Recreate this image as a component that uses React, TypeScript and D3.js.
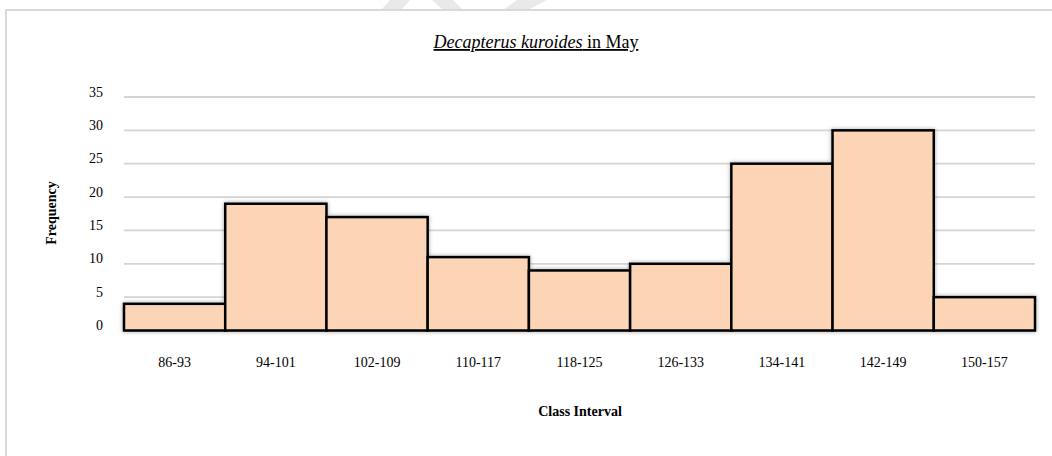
import React from "react";
import * as d3 from "d3";

// Length classes (mm) and their frequencies
const categories = ["86-93", "94-101", "102-109", "110-117", "118-125", "126-133", "134-141", "142-149", "150-157"];
const frequencies = [4, 19, 17, 11, 9, 10, 25, 30, 5];
const yTicks = [0, 5, 10, 15, 20, 25, 30, 35];

const W = 1052;
const H = 456;
const FONT = "'Liberation Serif', 'DejaVu Serif', serif";

export default function App() {
  const x = d3.scaleBand<string>().domain(categories).range([124, 1035]).padding(0);
  const y = d3.scaleLinear().domain([0, 35]).range([330.5, 97]);

  const bars = categories.map((c, i) => ({ c, v: frequencies[i] }));

  return (
    <svg width={W} height={H} style={{ position: "absolute", left: 0, top: 0, background: "#fff" }}>
      <defs>
        <filter id="barShadow" x="-10%" y="-10%" width="120%" height="120%">
          <feDropShadow dx="0" dy="0" stdDeviation="2.2" floodColor="#000" floodOpacity="0.35" />
        </filter>
      </defs>

      {/* faint page watermark strokes above the frame */}
      <g fill="#e9e9e9">
        <polygon points="390,0 410,0 401,10 381,10" />
        <polygon points="432,0 453,0 463,10 443,10" />
        <polygon points="517,0 547,0 528,10 503,10" />
      </g>

      {/* chart frame */}
      <rect x={6} y={10} width={W + 10} height={H + 10} fill="#fff" stroke="#d9d9d9" strokeWidth={2} />

      {/* title */}
      <text x={536} y={48} textAnchor="middle" fontFamily={FONT} fontSize={18} fill="#000" textDecoration="underline">
        <tspan fontStyle="italic">Decapterus kuroides</tspan>
        <tspan> in May</tspan>
      </text>

      {/* gridlines */}
      {yTicks.map((t) => (
        <line key={t} x1={124} x2={1035} y1={y(t)} y2={y(t)} stroke="#d4d4d4" strokeWidth={1.8} />
      ))}

      {/* y tick labels */}
      {yTicks.map((t) => (
        <text key={"l" + t} x={103} y={y(t) - 0.5} textAnchor="end" fontFamily={FONT} fontSize={14} fill="#000">
          {t}
        </text>
      ))}

      {/* bars */}
      <g filter="url(#barShadow)">
        {bars.map((b) => (
          <rect
            key={b.c}
            x={x(b.c)!}
            y={y(b.v)}
            width={x.bandwidth()}
            height={y(0) - y(b.v)}
            fill="#fbd5b5"
            stroke="#000"
            strokeWidth={2.5}
          />
        ))}
      </g>

      {/* x tick labels */}
      {categories.map((c) => (
        <text key={"x" + c} x={x(c)! + x.bandwidth() / 2} y={367} textAnchor="middle" fontFamily={FONT} fontSize={14} fill="#000">
          {c}
        </text>
      ))}

      {/* axis titles */}
      <text x={580} y={416} textAnchor="middle" fontFamily={FONT} fontSize={14} fontWeight="bold" fill="#000">
        Class Interval
      </text>
      <text
        transform="translate(56,213) rotate(-90)"
        textAnchor="middle"
        fontFamily={FONT}
        fontSize={14}
        fontWeight="bold"
        fill="#000"
      >
        Frequency
      </text>
    </svg>
  );
}
